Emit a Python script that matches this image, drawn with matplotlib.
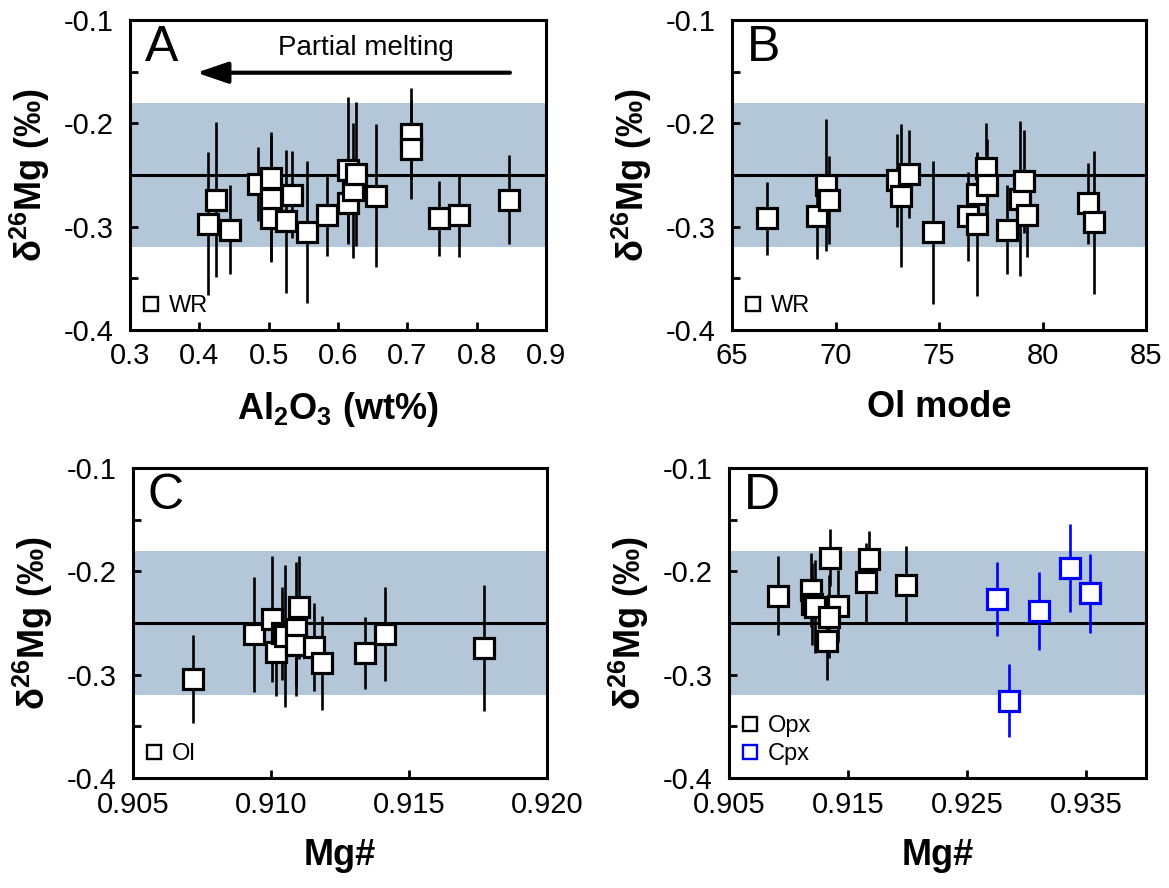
import matplotlib
matplotlib.use("Agg")
import matplotlib.pyplot as plt
from matplotlib.lines import Line2D

plt.rcParams['font.family'] = ['Liberation Sans', 'DejaVu Sans']
plt.rcParams['axes.unicode_minus'] = False
plt.rcParams['mathtext.fontset'] = 'custom'
plt.rcParams['mathtext.rm'] = 'Liberation Sans'
plt.rcParams['mathtext.it'] = 'Liberation Sans'
plt.rcParams['mathtext.bf'] = 'Liberation Sans:bold'

# ---- Whole-rock data vs Al2O3 ----
al2o3 = [0.424, 0.413, 0.444, 0.484, 0.504, 0.504, 0.504, 0.525, 0.534, 0.555,
         0.584, 0.615, 0.615, 0.622, 0.626, 0.655, 0.705, 0.705, 0.745, 0.775, 0.846]
d26mg_wr_a = [-0.274, -0.297, -0.303, -0.259, -0.253, -0.273, -0.292, -0.295, -0.269, -0.305,
              -0.289, -0.277, -0.245, -0.265, -0.249, -0.270, -0.210, -0.225, -0.292, -0.289, -0.274]
err_wr_a = [0.075, 0.069, 0.043, 0.036, 0.045, 0.061, 0.040, 0.069, 0.042, 0.069,
            0.039, 0.040, 0.070, 0.065, 0.070, 0.069, 0.044, 0.048, 0.036, 0.040, 0.043]

# ---- Whole-rock data vs olivine mode ----
ol_mode = [66.71, 69.12, 69.54, 69.70, 72.95, 73.15, 73.57, 74.73, 76.42, 76.82,
           76.82, 77.29, 77.30, 78.30, 78.91, 79.10, 79.27, 82.18, 82.50]
d26mg_wr_b = [-0.292, -0.290, -0.260, -0.274, -0.255, -0.270, -0.249, -0.3055, -0.290, -0.2685,
              -0.2975, -0.2436, -0.260, -0.303, -0.273, -0.256, -0.2888, -0.2775, -0.2958]
err_wr_b = [0.0355, 0.041, 0.064, 0.0426, 0.045, 0.069, 0.043, 0.069, 0.043, 0.040,
            0.070, 0.0436, 0.045, 0.043, 0.075, 0.050, 0.0406, 0.039, 0.069]

# ---- Olivine ----
mg_ol = [0.90719, 0.90938, 0.91003, 0.91018, 0.91039, 0.91050, 0.91089, 0.91101, 0.91089,
         0.91156, 0.91184, 0.91342, 0.91413, 0.91772]
d26mg_ol = [-0.3043, -0.261, -0.2465, -0.2778, -0.260, -0.2627, -0.2559, -0.2349, -0.2713,
            -0.273, -0.289, -0.2788, -0.261, -0.2745]
err_ol = [0.0424, 0.0553, 0.061, 0.0426, 0.045, 0.0686, 0.065, 0.050, 0.040,
          0.0426, 0.0455, 0.035, 0.0455, 0.061]

# ---- Orthopyroxene ----
mg_opx = [0.90914, 0.91187, 0.91195, 0.91220, 0.91349, 0.91419, 0.91343, 0.91321,
          0.91674, 0.91651, 0.91985]
d26mg_opx = [-0.2236, -0.2181, -0.2317, -0.2345, -0.1868, -0.2336, -0.2439, -0.2672,
             -0.1877, -0.2106, -0.2133]
err_opx = [0.038, 0.036, 0.040, 0.045, 0.0274, 0.035, 0.040, 0.038, 0.027, 0.038, 0.038]

# ---- Clinopyroxene ----
mg_cpx = [0.92750, 0.92853, 0.93100, 0.93366, 0.93528]
d26mg_cpx = [-0.2268, -0.3253, -0.2384, -0.1965, -0.2213]
err_cpx = [0.036, 0.0355, 0.038, 0.0426, 0.038]

# mantle reference value and range
mantle_mean = -0.25
mantle_low, mantle_high = -0.32, -0.18

yticks_all = [-0.1, -0.15, -0.2, -0.25, -0.3, -0.35, -0.4]
ytick_labels = ['-0.1', '', '-0.2', '', '-0.3', '', '-0.4']

BAND = '#b4c7d9'
TICK_FS = 21
LABEL_FS = 26
YLABEL = r'$\mathbf{\delta^{26}}$Mg (‰)'

W, H = 1169, 888
fig = plt.figure(figsize=(W / 100, H / 100), dpi=100)


def px_axes(left, top, right, bottom):
    return fig.add_axes([left / W, (H - bottom) / H, (right - left) / W, (bottom - top) / H])


def style(ax, xlim, xticks, xticklabels, xlabel):
    ax.set_ylim(-0.4, -0.1)
    ax.set_xlim(*xlim)
    ax.axhspan(mantle_low, mantle_high, color=BAND, lw=0, zorder=0)
    ax.axhline(mantle_mean, color='black', lw=2.2, zorder=1)
    ax.set_yticks(yticks_all)
    ax.set_yticklabels(ytick_labels)
    ax.set_xticks(xticks)
    ax.set_xticklabels(xticklabels)
    ax.tick_params(direction='in', length=6, width=2, labelsize=TICK_FS, pad=9)
    ax.tick_params(axis='y', pad=12)
    for s in ax.spines.values():
        s.set_linewidth(2.2)
    ax.set_xlabel(xlabel, fontsize=LABEL_FS, fontweight='bold', labelpad=14)
    ax.set_ylabel(YLABEL, fontsize=LABEL_FS, fontweight='bold', labelpad=8)


def draw(ax, x, y, e, color):
    ax.errorbar(x, y, yerr=e, fmt='none', ecolor=color, elinewidth=1.9, capsize=0, zorder=2)
    ax.plot(x, y, 's', ms=14, mfc='white', mec=color, mew=2.3, ls='none', zorder=3)


def legend(ax, entries):
    handles = [Line2D([], [], marker='s', ls='none', ms=9.5, mfc='white', mec=c, mew=1.7)
               for _, c in entries]
    ax.legend(handles, [t for t, _ in entries], loc='lower left', frameon=False,
              fontsize=17, handlelength=0.7, handletextpad=0.4, borderaxespad=0.25,
              labelspacing=0.25, borderpad=0.3)


def panel_tag(ax, tag):
    ax.text(0.035, 0.985, tag, transform=ax.transAxes, ha='left', va='top', fontsize=36)


# A
axA = px_axes(130, 20, 546, 330)
style(axA, (0.3, 0.9), [0.3, 0.4, 0.5, 0.6, 0.7, 0.8, 0.9],
      ['0.3', '0.4', '0.5', '0.6', '0.7', '0.8', '0.9'],
      r'Al$_\mathbf{2}$O$_\mathbf{3}$ (wt%)')
draw(axA, al2o3, d26mg_wr_a, err_wr_a, 'black')
legend(axA, [('WR', 'black')])
panel_tag(axA, 'A')
axA.annotate('', xy=(0.392, -0.151), xytext=(0.852, -0.151),
             arrowprops=dict(arrowstyle='-|>,head_length=1.9,head_width=0.65', lw=3, color='black'))
axA.text(0.64, -0.127, 'Partial melting', ha='center', va='center', fontsize=20)

# B
axB = px_axes(732, 20, 1146, 330)
style(axB, (65, 85), [65, 70, 75, 80, 85], ['65', '70', '75', '80', '85'], 'Ol mode')
draw(axB, ol_mode, d26mg_wr_b, err_wr_b, 'black')
legend(axB, [('WR', 'black')])
panel_tag(axB, 'B')

# C
axC = px_axes(133, 468, 547, 778)
style(axC, (0.905, 0.920), [0.905, 0.910, 0.915, 0.920],
      ['0.905', '0.910', '0.915', '0.920'], 'Mg#')
draw(axC, mg_ol, d26mg_ol, err_ol, 'black')
legend(axC, [('Ol', 'black')])
panel_tag(axC, 'C')

# D
axD = px_axes(729, 468, 1146, 778)
style(axD, (0.905, 0.940), [0.905, 0.915, 0.925, 0.935],
      ['0.905', '0.915', '0.925', '0.935'], 'Mg#')
draw(axD, mg_opx, d26mg_opx, err_opx, 'black')
draw(axD, mg_cpx, d26mg_cpx, err_cpx, '#0000ff')
legend(axD, [('Opx', 'black'), ('Cpx', '#0000ff')])
panel_tag(axD, 'D')

fig.savefig('out.png', dpi=100)
